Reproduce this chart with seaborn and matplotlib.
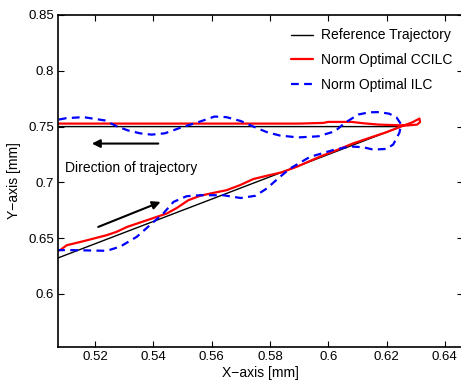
import matplotlib
matplotlib.use("Agg")
import matplotlib.pyplot as plt
import numpy as np
import pandas as pd
import seaborn as sns

# ---------------- data ----------------
ref_x = [0.500, 0.625, 0.500]
ref_y = [0.625, 0.750, 0.750]

ccilc_x = [0.5070, 0.5080, 0.5103, 0.5160, 0.5240, 0.5274, 0.5309, 0.5354, 0.5446, 0.5480,
           0.5520, 0.5560, 0.5606, 0.5651, 0.5697, 0.5743, 0.5790, 0.5840, 0.5892, 0.5971,
           0.6030, 0.6086, 0.6154, 0.6200, 0.6252,
           0.6290, 0.6313, 0.6315, 0.6305, 0.6270, 0.6241, 0.6172, 0.6120, 0.6080, 0.6000,
           0.5983, 0.5900, 0.5000]
ccilc_y = [0.6390, 0.6393, 0.6437, 0.6473, 0.6527, 0.6557, 0.6600, 0.6640, 0.6721, 0.6770,
           0.6840, 0.6880, 0.6906, 0.6930, 0.6975, 0.7030, 0.7060, 0.7090, 0.7140, 0.7230,
           0.7290, 0.7350, 0.7410, 0.7450, 0.7503,
           0.7540, 0.7572, 0.7540, 0.7518, 0.7510, 0.7512, 0.7518, 0.7530, 0.7542, 0.7542,
           0.7533, 0.7527, 0.7527]

ilc_x = [0.5070, 0.5125, 0.5180, 0.5240, 0.5286, 0.5343, 0.5388, 0.5434, 0.5469, 0.5514,
         0.5560, 0.5640, 0.5700, 0.5750, 0.5789, 0.5830, 0.5869, 0.5937, 0.6017, 0.6074,
         0.6120, 0.6154, 0.6200, 0.6223, 0.6244, 0.6250,
         0.6235, 0.6210, 0.6175, 0.6140, 0.6103, 0.6057, 0.6023, 0.5966, 0.5897, 0.5834,
         0.5790, 0.5754, 0.5700, 0.5650, 0.5610, 0.5560, 0.5491, 0.5440, 0.5394, 0.5354,
         0.5314, 0.5274, 0.5234, 0.5160, 0.5100, 0.5060]
ilc_y = [0.6393, 0.6393, 0.6390, 0.6387, 0.6424, 0.6512, 0.6616, 0.6721, 0.6825, 0.6876,
         0.6885, 0.6885, 0.6860, 0.6880, 0.6945, 0.7040, 0.7124, 0.7228, 0.7290, 0.7322,
         0.7315, 0.7294, 0.7300, 0.7340, 0.7444, 0.7520,
         0.7580, 0.7615, 0.7630, 0.7628, 0.7608, 0.7533, 0.7458, 0.7413, 0.7403, 0.7420,
         0.7450, 0.7488, 0.7550, 0.7585, 0.7590, 0.7545, 0.7488, 0.7440, 0.7428, 0.7440,
         0.7465, 0.7503, 0.7555, 0.7585, 0.7575, 0.7555]

series_names = ["Reference Trajectory", "Norm Optimal CCILC", "Norm Optimal ILC"]
x_ticks = [0.52, 0.54, 0.56, 0.58, 0.60, 0.62, 0.64]
x_tick_labels = ["0.52", "0.54", "0.56", "0.58", "0.6", "0.62", "0.64"]
y_ticks = [0.60, 0.65, 0.70, 0.75, 0.80, 0.85]
y_tick_labels = ["0.6", "0.65", "0.7", "0.75", "0.8", "0.85"]

# ---------------- style ----------------
sns.set_style("white")
plt.rcParams["font.family"] = ["Liberation Sans", "DejaVu Sans"]
plt.rcParams["text.color"] = "black"
plt.rcParams["axes.labelcolor"] = "black"
plt.rcParams["xtick.color"] = "black"
plt.rcParams["ytick.color"] = "black"
plt.rcParams["axes.unicode_minus"] = True

W, H = 461, 382
fig = plt.figure(figsize=(W / 100, H / 100), dpi=100)
left_px, right_px, top_px, bot_px = 58.3, 463.0, 15.0, 347.0
ax = fig.add_axes([left_px / W, (H - bot_px) / H, (right_px - left_px) / W, (bot_px - top_px) / H])

frames = []
for name, xs, ys in zip(series_names, [ref_x, ccilc_x, ilc_x], [ref_y, ccilc_y, ilc_y]):
    frames.append(pd.DataFrame({"x": xs, "y": ys, "series": name}))
df = pd.concat(frames, ignore_index=True)

colors = ["black", "#ff0000", "#0000ff"]
widths = [1.0, 1.6, 1.6]
for name, c, w in zip(series_names, colors, widths):
    sns.lineplot(data=df[df["series"] == name], x="x", y="y", sort=False, estimator=None,
                 color=c, linewidth=w, ax=ax)
ax.lines[2].set_dashes([3.5, 2.4])

ax.set_xlim(0.5074, 0.5074 + (right_px - left_px) / 58.3 * 0.02)
ax.set_ylim(0.5525, 0.85)
ax.set_xticks(x_ticks)
ax.set_xticklabels(x_tick_labels)
ax.set_yticks(y_ticks)
ax.set_yticklabels(y_tick_labels)
ax.tick_params(direction="in", length=4, width=0.8, top=True, right=True,
               bottom=True, left=True, labelsize=9.5, pad=3)
for s in ax.spines.values():
    s.set_color("black")
    s.set_linewidth(1.2)

ax.set_xlabel("X\u2212axis [mm]", fontsize=10, labelpad=2)
ax.set_ylabel("Y\u2212axis [mm]", fontsize=10, labelpad=5)

# annotations
ax.text(0.5097, 0.7133, "Direction of trajectory", fontsize=10, ha="left", va="center")
arrow_kw = dict(arrowstyle="-|>", lw=1.5, color="black", mutation_scale=12,
                shrinkA=0, shrinkB=0)
ax.annotate("", xy=(0.5189, 0.7348), xytext=(0.5417, 0.7348), arrowprops=arrow_kw)
ax.annotate("", xy=(0.5425, 0.6825), xytext=(0.5211, 0.6601), arrowprops=arrow_kw)

handles = ax.lines[:3]
ax.legend(handles, series_names, frameon=False, loc="upper left",
          bbox_to_anchor=(290.7 / W, 1 - 28.5 / H), bbox_transform=fig.transFigure,
          handlelength=1.6, handletextpad=0.55, borderpad=0, borderaxespad=0,
          labelspacing=0.78, fontsize=10)

fig.savefig("out.png", dpi=100)
